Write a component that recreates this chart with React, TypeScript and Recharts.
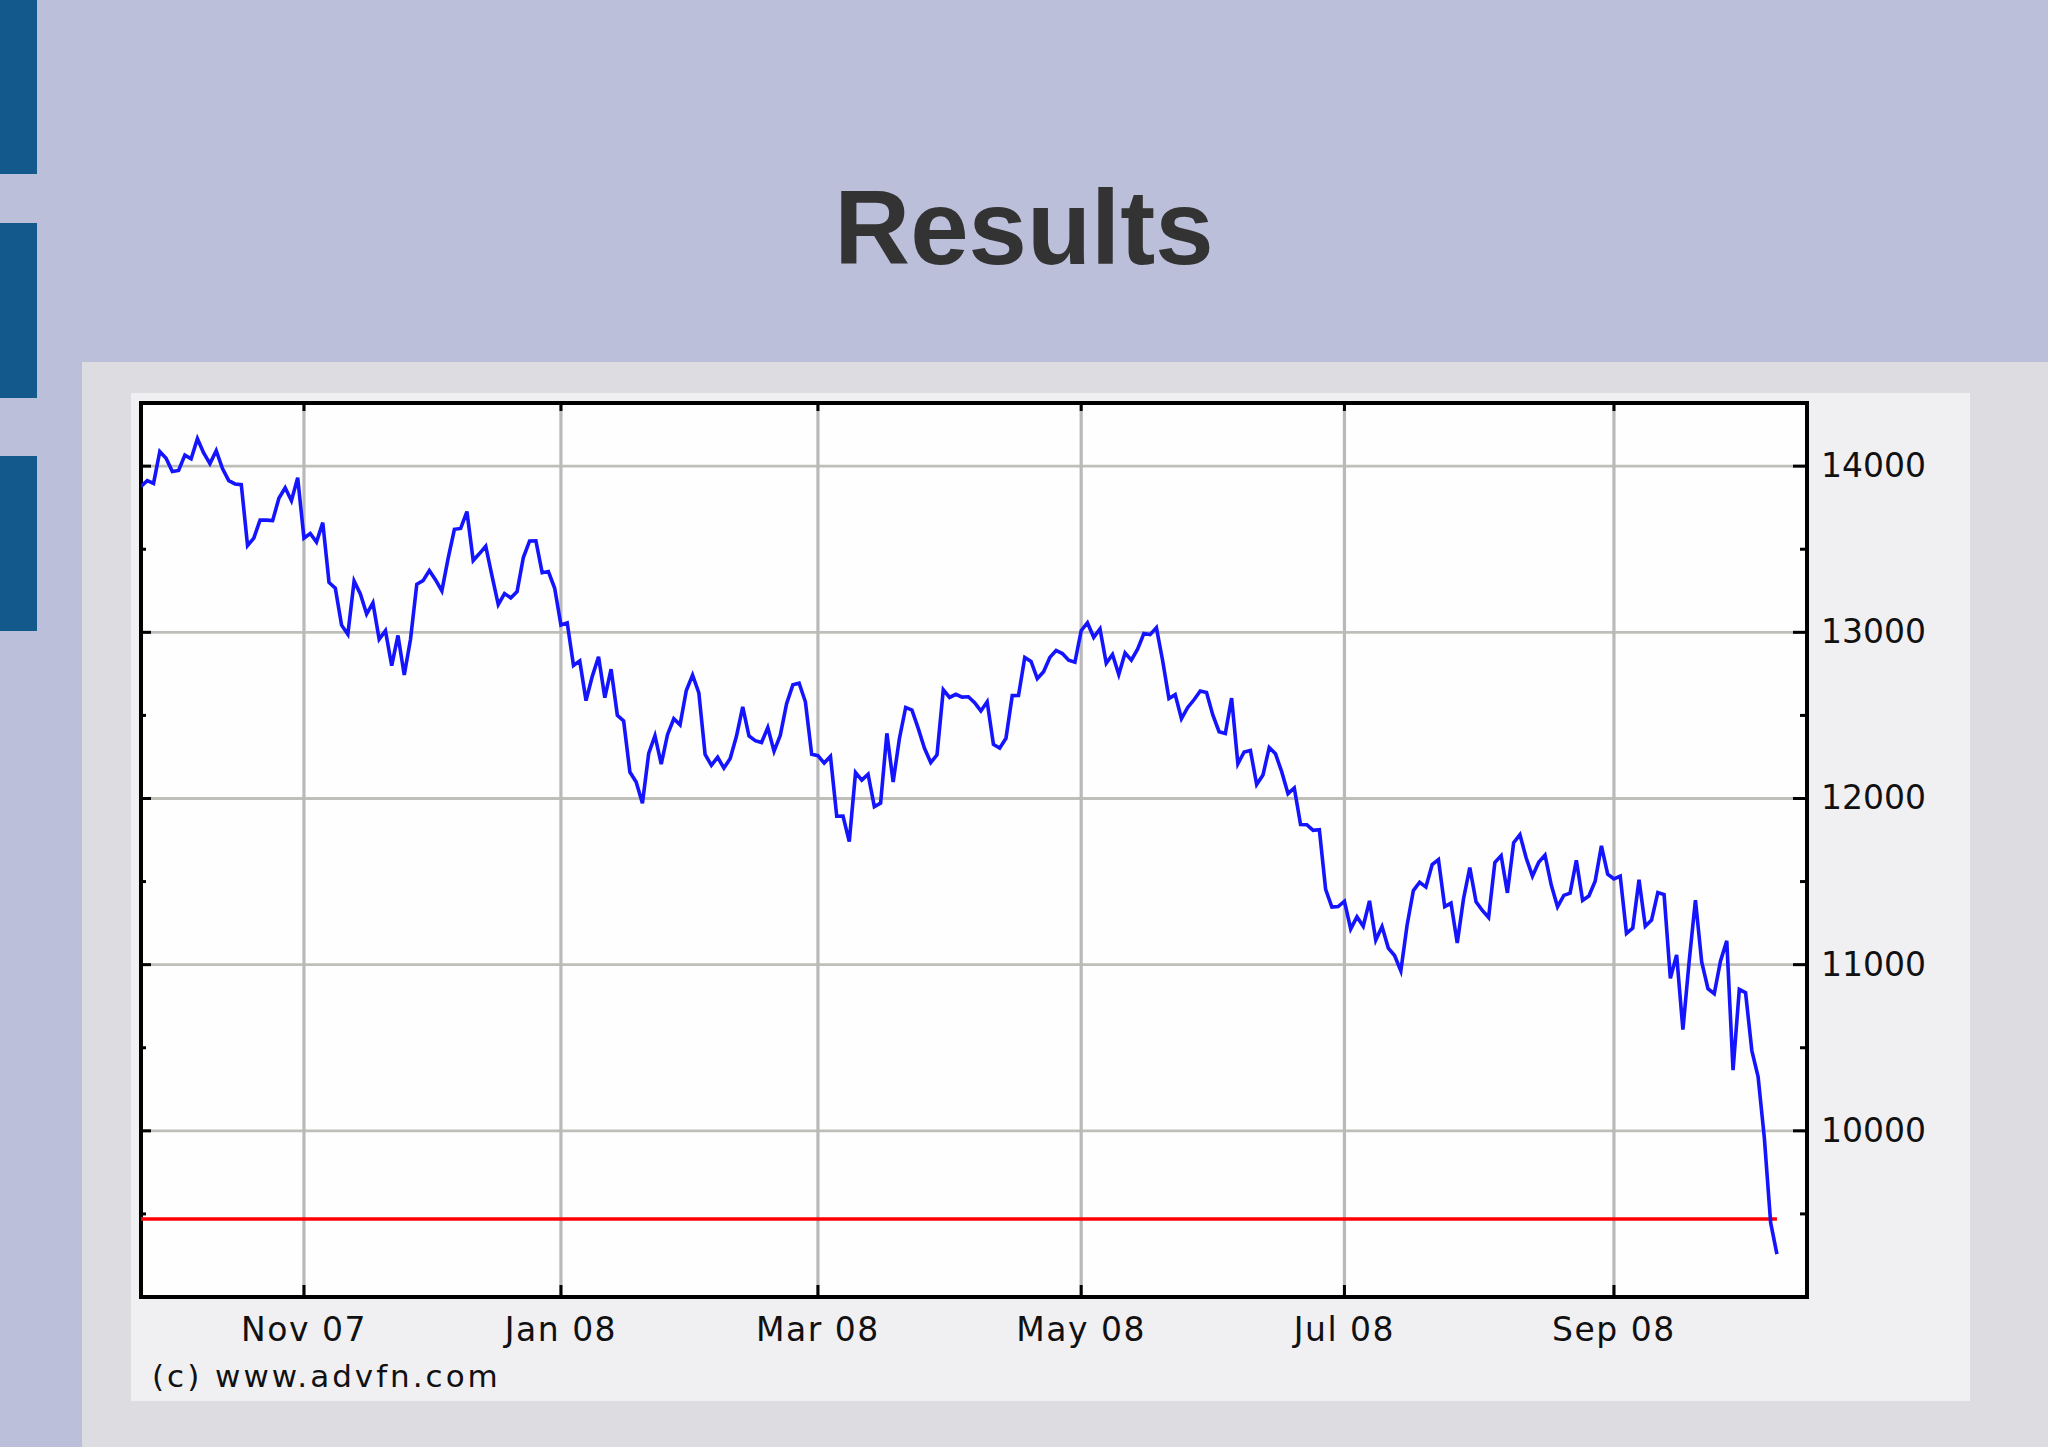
import {
    LineChart,
    Line,
    XAxis,
    YAxis,
    CartesianGrid,
    ReferenceLine,
    ReferenceArea
} from 'recharts';

// daily closes, one array per month (trading days only)
const sep07 = [13878, 13913, 13896];
const oct07 = [14088, 14047, 13968, 13974, 14066, 14044, 14165, 14079, 14015, 14093, 13985, 13913, 13893, 13889, 13522, 13567, 13676, 13675, 13672, 13807, 13870, 13792, 13930];
const nov07 = [13567, 13595, 13543, 13660, 13300, 13266, 13043, 12988, 13308, 13231, 13110, 13177, 12958, 13010, 12799, 12981, 12743, 12958, 13289, 13311, 13372];
const dec07 = [13315, 13249, 13445, 13620, 13625, 13727, 13432, 13474, 13518, 13339, 13167, 13233, 13207, 13245, 13450, 13550, 13551, 13359, 13366, 13265];
const jan08 = [13044, 13057, 12800, 12828, 12589, 12735, 12853, 12607, 12778, 12501, 12467, 12159, 12099, 11971, 12271, 12378, 12207, 12384, 12480, 12443, 12650];
const feb08 = [12743, 12636, 12265, 12200, 12248, 12183, 12240, 12374, 12552, 12376, 12348, 12337, 12427, 12284, 12381, 12570, 12684, 12694, 12582, 12266];
const mar08 = [12258, 12213, 12254, 11893, 11894, 11740, 12156, 12111, 12146, 11951, 11972, 12392, 12099, 12361, 12548, 12532, 12422, 12302, 12216, 12263];
const apr08 = [12654, 12608, 12627, 12610, 12612, 12577, 12527, 12582, 12325, 12303, 12362, 12619, 12620, 12849, 12825, 12721, 12763, 12849, 12891, 12872, 12832, 12820];
const may08 = [13010, 13058, 12970, 13021, 12814, 12867, 12746, 12876, 12832, 12899, 12993, 12986, 13028, 12829, 12601, 12625, 12480, 12548, 12594, 12647, 12638];
const jun08 = [12503, 12402, 12391, 12604, 12209, 12280, 12289, 12084, 12141, 12307, 12269, 12160, 12029, 12063, 11843, 11842, 11808, 11812, 11453, 11346, 11350];
const jul08 = [11382, 11215, 11288, 11231, 11384, 11148, 11229, 11100, 11055, 10963, 11239, 11446, 11496, 11467, 11603, 11632, 11349, 11370, 11131, 11397, 11584, 11378];
const aug08 = [11326, 11284, 11615, 11656, 11432, 11734, 11782, 11642, 11533, 11616, 11659, 11479, 11348, 11417, 11430, 11628, 11387, 11413, 11502, 11715, 11544];
const sep08 = [11516, 11533, 11188, 11220, 11511, 11231, 11268, 11434, 11422, 10918, 11059, 10609, 11020, 11388, 11016, 10855, 10825, 11023, 11143, 10365, 10851];
const oct08 = [10831, 10483, 10325, 9955, 9447, 9258];

const monthNames = ['Sep 07', 'Oct 07', 'Nov 07', 'Dec 07', 'Jan 08', 'Feb 08', 'Mar 08', 'Apr 08', 'May 08', 'Jun 08', 'Jul 08', 'Aug 08', 'Sep 08', 'Oct 08'];
const monthCloses = [sep07, oct07, nov07, dec07, jan08, feb08, mar08, apr08, may08, jun08, jul08, aug08, sep08, oct08];

const tickMonths = ['Nov 07', 'Jan 08', 'Mar 08', 'May 08', 'Jul 08', 'Sep 08'];
const valueTicks = [9500, 10000, 10500, 11000, 11500, 12000, 12500, 13000, 13500, 14000];
const majorValues = [10000, 11000, 12000, 13000, 14000];
const supportLevel = 9470;

const xDomain = [0, 265.8];
const yDomain = [9000, 14380];

// build rows
const data: { day: number; close: number }[] = [];
const monthStart: Record<string, number> = {};
monthCloses.forEach((closes, m) => {
    monthStart[monthNames[m]] = data.length;
    closes.forEach((c) => data.push({ day: data.length, close: c }));
});
const dayTicks = tickMonths.map((m) => monthStart[m]);
const lastDay = data[data.length - 1].day;

// plot box inside the svg
const CHART_W = 1839;
const CHART_H = 1008;
const PLOT_LEFT = 10;
const PLOT_TOP = 10;
const AXIS_FONT = '"DejaVu Sans", sans-serif';

function MonthTick(props: any) {
    const { x, y, payload } = props;
    const label = tickMonths[dayTicks.indexOf(payload.value)];
    return (
        <g>
            <line x1={x} x2={x} y1={y - 12} y2={y} stroke="#000" strokeWidth={3} />
            <line x1={x} x2={x} y1={PLOT_TOP} y2={PLOT_TOP + 8} stroke="#000" strokeWidth={3} />
            <text
                x={x}
                y={y + 44}
                textAnchor="middle"
                fontFamily={AXIS_FONT}
                fontSize={33}
                letterSpacing={1.5}
                fill="#111"
            >
                {label}
            </text>
        </g>
    );
}

function ValueTick(props: any) {
    const { x, y, payload } = props;
    const major = payload.value % 1000 === 0;
    return (
        <g>
            <line x1={x - (major ? 14 : 7)} x2={x} y1={y} y2={y} stroke="#000" strokeWidth={3} />
            <line x1={PLOT_LEFT} x2={PLOT_LEFT + (major ? 10 : 5)} y1={y} y2={y} stroke="#000" strokeWidth={3} />
            {major && (
                <text x={x + 14} y={y + 11} fontFamily={AXIS_FONT} fontSize={33} fill="#111">
                    {payload.value}
                </text>
            )}
        </g>
    );
}

function App() {
    return (
        <div style={{ position: 'absolute', left: 0, top: 0, width: 2048, height: 1447, background: '#bbbfd9', overflow: 'hidden' }}>
            {/* slide decoration */}
            <div style={{ position: 'absolute', left: 0, top: 0, width: 37, height: 174, background: '#14598b' }} />
            <div style={{ position: 'absolute', left: 0, top: 223, width: 37, height: 175, background: '#14598b' }} />
            <div style={{ position: 'absolute', left: 0, top: 456, width: 37, height: 175, background: '#14598b' }} />
            <div style={{ position: 'absolute', left: 82, top: 362, width: 1966, height: 1085, background: '#dddde1' }} />

            <div
                style={{
                    position: 'absolute',
                    left: 0,
                    top: 175,
                    width: 2048,
                    textAlign: 'center',
                    fontFamily: '"Liberation Sans", Arial, sans-serif',
                    fontWeight: 'bold',
                    fontSize: 105,
                    lineHeight: '105px',
                    color: '#333333'
                }}
            >
                Results
            </div>

            <div style={{ position: 'absolute', left: 131, top: 393, width: CHART_W, height: CHART_H, background: '#f0eff2' }}>
                <LineChart
                    width={CHART_W}
                    height={CHART_H}
                    data={data}
                    margin={{ top: PLOT_TOP, right: 0, bottom: 0, left: PLOT_LEFT }}
                >
                    <CartesianGrid
                        vertical={false}
                        horizontalValues={majorValues}
                        stroke="#bfbeb8"
                        strokeWidth={2.8}
                        fill="#fefefe"
                    />
                    <CartesianGrid
                        horizontal={false}
                        verticalValues={dayTicks}
                        stroke="#b9b9b9"
                        strokeWidth={3.2}
                    />
                    <XAxis
                        dataKey="day"
                        type="number"
                        domain={xDomain}
                        ticks={dayTicks}
                        interval={0}
                        allowDataOverflow
                        height={104}
                        axisLine={false}
                        tickLine={false}
                        tickSize={0}
                        tickMargin={0}
                        tick={(p: any) => <MonthTick {...p} />}
                    />
                    <YAxis
                        orientation="right"
                        type="number"
                        domain={yDomain}
                        ticks={valueTicks}
                        interval={0}
                        allowDataOverflow
                        width={163}
                        axisLine={false}
                        tickLine={false}
                        tickSize={0}
                        tickMargin={0}
                        tick={(p: any) => <ValueTick {...p} />}
                    />
                    <ReferenceLine
                        segment={[{ x: 0, y: supportLevel }, { x: lastDay, y: supportLevel }]}
                        stroke="#ff0000"
                        strokeWidth={3.5}
                    />
                    <Line
                        type="linear"
                        dataKey="close"
                        stroke="#1414ff"
                        strokeWidth={3.6}
                        dot={false}
                        isAnimationActive={false}
                    />
                    <ReferenceArea
                        x1={xDomain[0]}
                        x2={xDomain[1]}
                        y1={yDomain[0]}
                        y2={yDomain[1]}
                        fill="none"
                        stroke="#000"
                        strokeWidth={4}
                    />
                </LineChart>
            </div>

            <div
                style={{
                    position: 'absolute',
                    left: 152,
                    top: 1361,
                    fontFamily: AXIS_FONT,
                    fontSize: 31,
                    lineHeight: '31px',
                    letterSpacing: 3,
                    color: '#111',
                    whiteSpace: 'nowrap'
                }}
            >
                (c) www.advfn.com
            </div>
        </div>
    );
}

export default App;
